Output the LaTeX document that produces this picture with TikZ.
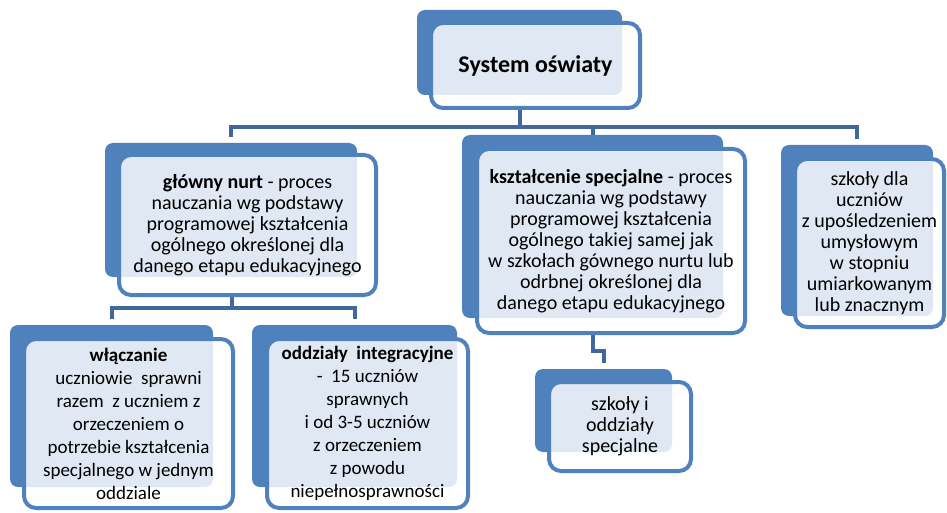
\documentclass[tikz,border=0pt]{standalone}
\usepackage{fontspec}
\setmainfont{Carlito}
\usepackage{tikz}
\usetikzlibrary{shapes}
\definecolor{boxblue}{HTML}{4F81BD}
\definecolor{lineblue}{HTML}{40689C}
\pgfdeclarelayer{connectors}
\pgfsetlayers{connectors,main}
\tikzstyle{back} = [rectangle, rounded corners=8pt, fill=boxblue, draw=none, inner sep=0pt]
\tikzstyle{front} = [rectangle, rounded corners=12pt, draw=boxblue, line width=4pt, fill=white, fill opacity=0.82, text opacity=1, align=center, inner sep=0pt, font=\fontsize{20}{21}\selectfont]
\tikzstyle{small} = [font=\fontsize{19}{23}\selectfont]
\tikzstyle{line} = [draw=lineblue, line width=4pt]

\begin{document}
\begin{tikzpicture}[x=1pt, y=-1pt]
\useasboundingbox (0,0) rectangle (947,513);
% back plates
\node [back, minimum width=205, minimum height=85] (sys-back) at (519.5,52.5) {};
\node [back, minimum width=252, minimum height=134] (nurt-back) at (231,210) {};
\node [back, minimum width=261, minimum height=183] (spec-back) at (592.5,226.5) {};
\node [back, minimum width=152, minimum height=171] (upos-back) at (857,230.5) {};
\node [back, minimum width=203, minimum height=162] (wlacz-back) at (111.5,406) {};
\node [back, minimum width=205, minimum height=162] (integ-back) at (354.5,406) {};
\node [back, minimum width=137, minimum height=83] (szk-back) at (603.5,410.5) {};

% front boxes
\node [front, minimum width=209, minimum height=85, font=\fontsize{24}{26}\selectfont\bfseries] (sys) at (535.5,65.5) {System oświaty};
\node [front, minimum width=257, minimum height=140] (nurt) at (247.5,225) {\textbf{główny nurt} - proces\\nauczania wg podstawy\\programowej kształcenia\\ogólnego określonej dla\\danego etapu edukacyjnego};
\node [front, minimum width=268, minimum height=184] (spec) at (611,241) {\textbf{kształcenie specjalne} - proces\\nauczania wg podstawy\\programowej kształcenia\\ogólnego takiej samej jak\\w szkołach gównego nurtu lub\\odrbnej określonej dla\\danego etapu edukacyjnego};
\node [front, minimum width=149, minimum height=168] (upos) at (869.5,243) {szkoły dla\\uczniów\\z upośledzeniem\\umysłowym\\w stopniu\\umiarkowanym\\lub znacznym};
\node [front, small, minimum width=209, minimum height=169] (wlacz) at (128.5,423.5) {\textbf{włączanie}\\uczniowie\ \ sprawni\\razem\ \ z uczniem z\\orzeczeniem o\\potrzebie kształcenia\\specjalnego w jednym\\oddziale};
\node [front, small, minimum width=201, minimum height=169] (integ) at (367.5,423.5) {\textbf{oddziały\ \ integracyjne}\\-\ \ 15 uczniów\\sprawnych\\i od 3-5 uczniów\\z orzeczeniem\\z powodu\\niepełnosprawności};
\node [front, minimum width=142, minimum height=89] (szk) at (620,426.5) {szkoły i\\oddziały\\specjalne};

% connectors
\begin{pgfonlayer}{connectors}
\path [line] ([xshift=-15.5pt]sys.south) -- ++(0,17) coordinate (bus) -| ([yshift=6pt]nurt-back.north);
\path [line] (bus) -| ([yshift=6pt]upos-back.north);
\path [line] (bus) -| (spec-back.north);
\path [line] ([xshift=-15.5pt]nurt.south) -- ++(0,11) coordinate (bus-nurt) -| ([yshift=6pt]wlacz-back.north);
\path [line] (bus-nurt) -| ([yshift=6pt]integ-back.north);
\path [line] ([xshift=-18pt]spec.south) -- ++(0,16) -| ([yshift=6pt]szk-back.north);
\end{pgfonlayer}
\end{tikzpicture}
\end{document}
